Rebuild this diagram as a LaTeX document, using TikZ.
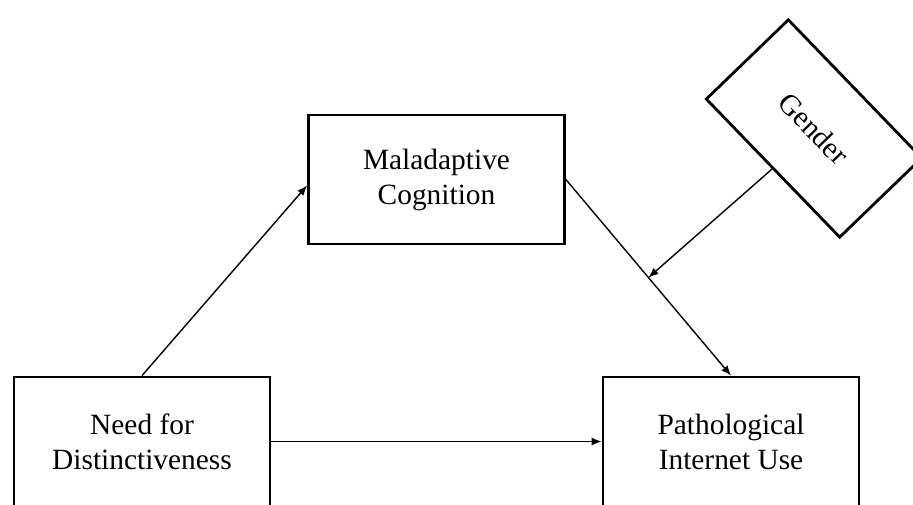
\documentclass[tikz,border=0pt]{standalone}
\usepackage{fontspec}
\setmainfont{Liberation Serif}
\usetikzlibrary{arrows.meta}

\begin{document}
\begin{tikzpicture}[
  box/.style={draw, line width=1.4pt, minimum width=128pt, minimum height=64.5pt,
    align=center, inner sep=0pt, font=\fontsize{14.7}{17.5}\selectfont},
  link/.style={-{Latex[length=5pt,width=4pt]}, line width=0.7pt}]
\useasboundingbox (0,0) rectangle (456.5pt,-252pt);
\clip (0,0) rectangle (456.5pt,-252pt);
\node [box] (nd) at (71pt,-220.75pt) {Need for\\Distinctiveness};
\node [box, right of=nd, node distance=294.5pt] (piu) {Pathological\\Internet Use};
\node [box] (mal) at (218.25pt,-89.75pt) {Maladaptive\\Cognition};
\node [box, minimum width=96pt, minimum height=57pt, rotate=-46] (gen) at (407pt,-64.25pt) {Gender};
\draw [link] (nd.north) -- ([yshift=-3pt]mal.west);
\draw [link] (mal.east) -- coordinate[pos=0.5] (mid) (piu.north);
\draw [link] (nd.east) -- (piu.west);
\draw [link] (gen.south) -- (mid);
\end{tikzpicture}
\end{document}
